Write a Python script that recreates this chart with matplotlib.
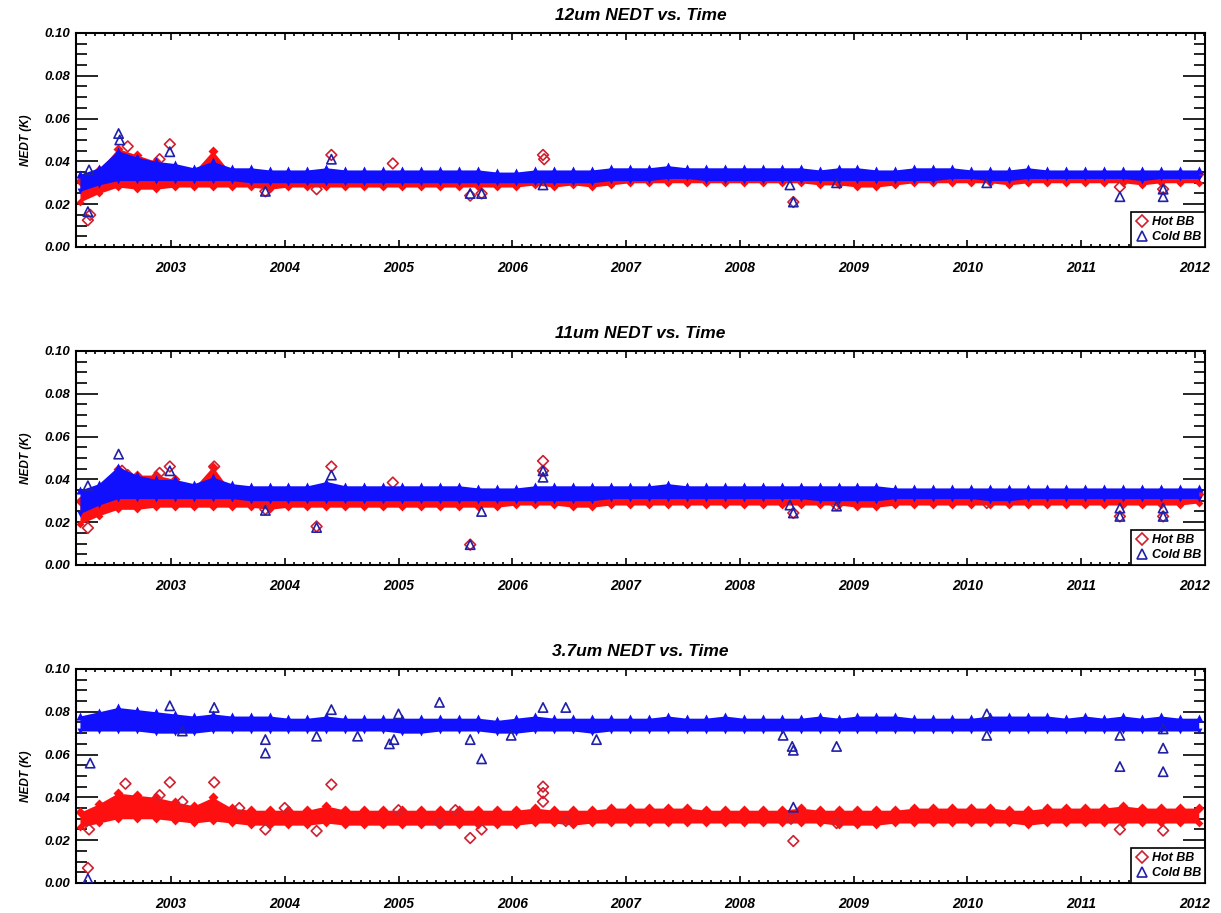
import numpy as np
import matplotlib
matplotlib.use('Agg')
import matplotlib.pyplot as plt
from matplotlib.ticker import MultipleLocator, FormatStrFormatter
from matplotlib.lines import Line2D

plt.rcParams['font.family'] = ['Liberation Sans', 'DejaVu Sans']
plt.rcParams['font.weight'] = 'bold'
plt.rcParams['font.style'] = 'italic'

# Band sampling times (every two months, decimal years)
t_band = np.round(2002.2 + np.arange(60) / 6, 3)

# ---- 12um: upper / lower edge of the dense daily bands ----
cold12_hi = [0.034, 0.037, 0.045, 0.042, 0.040, 0.039, 0.037, 0.040, 0.037, 0.037,
             0.036, 0.036, 0.036, 0.037, 0.036, 0.036, 0.036, 0.036, 0.036, 0.036,
             0.036, 0.036, 0.035, 0.035, 0.036, 0.036, 0.036, 0.036, 0.037, 0.037,
             0.037, 0.038, 0.037, 0.037, 0.037, 0.037, 0.037, 0.037, 0.037, 0.036,
             0.037, 0.037, 0.036, 0.036, 0.037, 0.037, 0.037, 0.036, 0.036, 0.036,
             0.037, 0.036, 0.036, 0.036, 0.036, 0.036, 0.036, 0.036, 0.036, 0.036]
cold12_lo = [0.026, 0.029, 0.031, 0.031, 0.031, 0.031, 0.031, 0.031, 0.031, 0.030,
             0.030, 0.030, 0.030, 0.030, 0.030, 0.030, 0.030, 0.030, 0.030, 0.030,
             0.030, 0.030, 0.030, 0.030, 0.030, 0.030, 0.030, 0.030, 0.031, 0.031,
             0.031, 0.032, 0.032, 0.031, 0.031, 0.031, 0.031, 0.031, 0.031, 0.031,
             0.031, 0.031, 0.031, 0.031, 0.031, 0.031, 0.032, 0.032, 0.031, 0.031,
             0.032, 0.032, 0.032, 0.032, 0.032, 0.032, 0.031, 0.032, 0.032, 0.032]
hot12_hi = [0.031, 0.036, 0.046, 0.043, 0.040, 0.037, 0.035, 0.045, 0.034, 0.033,
            0.033, 0.033, 0.033, 0.034, 0.033, 0.033, 0.033, 0.033, 0.033, 0.033,
            0.033, 0.033, 0.033, 0.033, 0.033, 0.033, 0.033, 0.033, 0.034, 0.034,
            0.034, 0.034, 0.034, 0.034, 0.034, 0.034, 0.034, 0.034, 0.034, 0.034,
            0.033, 0.033, 0.033, 0.033, 0.034, 0.034, 0.034, 0.034, 0.034, 0.034,
            0.034, 0.034, 0.034, 0.034, 0.034, 0.034, 0.034, 0.034, 0.034, 0.034]
hot12_lo = [0.021, 0.025, 0.028, 0.027, 0.027, 0.028, 0.028, 0.028, 0.028, 0.028,
            0.027, 0.028, 0.028, 0.028, 0.028, 0.028, 0.028, 0.028, 0.028, 0.028,
            0.028, 0.028, 0.028, 0.028, 0.029, 0.028, 0.029, 0.028, 0.029, 0.030,
            0.030, 0.030, 0.030, 0.030, 0.030, 0.030, 0.030, 0.030, 0.030, 0.029,
            0.029, 0.028, 0.028, 0.029, 0.030, 0.030, 0.030, 0.030, 0.030, 0.029,
            0.030, 0.030, 0.030, 0.030, 0.030, 0.030, 0.029, 0.030, 0.030, 0.030]
hot12_out_t = [2002.27, 2002.29, 2002.62, 2002.90, 2002.99, 2003.83, 2004.28, 2004.41,
               2004.95, 2005.63, 2005.73, 2006.27, 2006.28, 2008.47, 2011.34, 2011.72]
hot12_out_v = [0.0125, 0.015, 0.047, 0.041, 0.048, 0.026, 0.027, 0.043,
               0.039, 0.024, 0.025, 0.043, 0.041, 0.021, 0.028, 0.027]
cold12_out_t = [2002.27, 2002.28, 2002.54, 2002.55, 2002.99, 2003.83, 2004.41, 2005.63,
                2005.73, 2006.27, 2008.44, 2008.47, 2008.85, 2010.17, 2011.34, 2011.72, 2011.72]
cold12_out_v = [0.0165, 0.036, 0.053, 0.050, 0.0445, 0.026, 0.041, 0.025,
                0.025, 0.029, 0.029, 0.021, 0.030, 0.030, 0.0235, 0.0235, 0.027]

# ---- 11um ----
cold11_hi = [0.035, 0.038, 0.046, 0.042, 0.040, 0.040, 0.038, 0.041, 0.038, 0.037,
             0.037, 0.037, 0.037, 0.039, 0.037, 0.037, 0.037, 0.037, 0.037, 0.037,
             0.037, 0.036, 0.036, 0.036, 0.037, 0.037, 0.037, 0.037, 0.037, 0.037,
             0.037, 0.038, 0.037, 0.037, 0.037, 0.037, 0.037, 0.037, 0.037, 0.037,
             0.037, 0.037, 0.037, 0.036, 0.036, 0.036, 0.036, 0.036, 0.036, 0.036,
             0.036, 0.036, 0.036, 0.036, 0.036, 0.036, 0.036, 0.036, 0.036, 0.036]
cold11_lo = [0.024, 0.028, 0.031, 0.031, 0.031, 0.031, 0.031, 0.031, 0.031, 0.030,
             0.030, 0.030, 0.030, 0.030, 0.030, 0.030, 0.030, 0.030, 0.030, 0.030,
             0.030, 0.030, 0.030, 0.030, 0.030, 0.030, 0.030, 0.030, 0.031, 0.031,
             0.031, 0.031, 0.031, 0.031, 0.031, 0.031, 0.031, 0.031, 0.031, 0.030,
             0.030, 0.030, 0.030, 0.031, 0.031, 0.031, 0.031, 0.031, 0.030, 0.030,
             0.031, 0.031, 0.031, 0.031, 0.031, 0.031, 0.031, 0.031, 0.031, 0.031]
hot11_hi = [0.030, 0.035, 0.045, 0.042, 0.042, 0.040, 0.036, 0.046, 0.034, 0.033,
            0.033, 0.033, 0.033, 0.033, 0.033, 0.033, 0.033, 0.033, 0.033, 0.033,
            0.033, 0.033, 0.033, 0.033, 0.033, 0.033, 0.033, 0.033, 0.033, 0.033,
            0.033, 0.033, 0.033, 0.033, 0.033, 0.033, 0.033, 0.033, 0.033, 0.033,
            0.033, 0.033, 0.033, 0.033, 0.033, 0.033, 0.033, 0.033, 0.033, 0.033,
            0.033, 0.033, 0.033, 0.033, 0.033, 0.033, 0.033, 0.033, 0.033, 0.033]
hot11_lo = [0.019, 0.023, 0.026, 0.026, 0.027, 0.027, 0.027, 0.027, 0.027, 0.027,
            0.026, 0.027, 0.027, 0.027, 0.027, 0.027, 0.027, 0.027, 0.027, 0.027,
            0.027, 0.027, 0.027, 0.028, 0.028, 0.028, 0.027, 0.027, 0.028, 0.028,
            0.028, 0.028, 0.028, 0.028, 0.028, 0.028, 0.028, 0.028, 0.028, 0.028,
            0.028, 0.027, 0.027, 0.028, 0.028, 0.028, 0.028, 0.028, 0.028, 0.028,
            0.028, 0.028, 0.028, 0.028, 0.028, 0.028, 0.028, 0.028, 0.028, 0.029]
hot11_out_t = [2002.27, 2002.57, 2002.62, 2002.90, 2002.99, 2003.38, 2003.83, 2004.28,
               2004.41, 2004.95, 2005.63, 2006.27, 2006.27, 2008.47, 2008.85, 2010.17,
               2011.34, 2011.72]
hot11_out_v = [0.0173, 0.044, 0.042, 0.043, 0.046, 0.046, 0.026, 0.018,
               0.046, 0.0385, 0.0095, 0.0486, 0.044, 0.0243, 0.028, 0.029,
               0.0227, 0.0227]
cold11_out_t = [2002.27, 2002.54, 2002.99, 2003.83, 2004.28, 2004.41, 2005.63, 2005.73,
                2006.27, 2006.27, 2008.44, 2008.47, 2008.85, 2011.34, 2011.34, 2011.72, 2011.72]
cold11_out_v = [0.037, 0.0518, 0.044, 0.0255, 0.0175, 0.042, 0.0095, 0.025,
                0.044, 0.041, 0.028, 0.0243, 0.0275, 0.0227, 0.0266, 0.0227, 0.0266]

# ---- 3.7um ----
cold37_hi = [0.078, 0.080, 0.082, 0.081, 0.080, 0.079, 0.078, 0.079, 0.078, 0.078,
             0.078, 0.077, 0.077, 0.078, 0.077, 0.077, 0.077, 0.077, 0.077, 0.077,
             0.077, 0.077, 0.076, 0.077, 0.078, 0.077, 0.077, 0.077, 0.077, 0.077,
             0.077, 0.078, 0.077, 0.077, 0.078, 0.077, 0.077, 0.077, 0.077, 0.078,
             0.077, 0.078, 0.078, 0.078, 0.077, 0.077, 0.077, 0.077, 0.078, 0.078,
             0.078, 0.078, 0.077, 0.078, 0.077, 0.078, 0.077, 0.078, 0.077, 0.077]
cold37_lo = [0.071, 0.071, 0.071, 0.071, 0.070, 0.070, 0.070, 0.071, 0.071, 0.071,
             0.071, 0.071, 0.071, 0.071, 0.071, 0.071, 0.071, 0.070, 0.070, 0.071,
             0.071, 0.071, 0.070, 0.070, 0.071, 0.071, 0.071, 0.070, 0.071, 0.071,
             0.071, 0.071, 0.071, 0.071, 0.071, 0.071, 0.071, 0.071, 0.071, 0.071,
             0.071, 0.071, 0.071, 0.071, 0.071, 0.071, 0.071, 0.071, 0.071, 0.071,
             0.071, 0.071, 0.071, 0.071, 0.071, 0.071, 0.071, 0.071, 0.071, 0.071]
hot37_hi = [0.033, 0.037, 0.042, 0.041, 0.040, 0.038, 0.036, 0.040, 0.035, 0.034,
            0.034, 0.034, 0.034, 0.036, 0.034, 0.034, 0.034, 0.034, 0.034, 0.034,
            0.034, 0.034, 0.034, 0.034, 0.035, 0.034, 0.034, 0.034, 0.035, 0.035,
            0.035, 0.035, 0.035, 0.034, 0.034, 0.034, 0.034, 0.034, 0.035, 0.034,
            0.034, 0.034, 0.034, 0.034, 0.035, 0.035, 0.035, 0.035, 0.035, 0.034,
            0.034, 0.035, 0.035, 0.035, 0.035, 0.036, 0.035, 0.035, 0.035, 0.035]
hot37_lo = [0.026, 0.028, 0.030, 0.030, 0.030, 0.029, 0.028, 0.029, 0.028, 0.027,
            0.027, 0.027, 0.027, 0.028, 0.027, 0.027, 0.027, 0.027, 0.027, 0.027,
            0.027, 0.027, 0.027, 0.027, 0.028, 0.028, 0.027, 0.028, 0.028, 0.028,
            0.028, 0.028, 0.028, 0.028, 0.028, 0.028, 0.028, 0.028, 0.028, 0.028,
            0.027, 0.027, 0.027, 0.028, 0.028, 0.028, 0.028, 0.028, 0.028, 0.028,
            0.027, 0.028, 0.028, 0.028, 0.028, 0.028, 0.028, 0.028, 0.028, 0.028]
hot37_out_t = [2002.27, 2002.28, 2002.60, 2002.90, 2002.99, 2003.10, 2003.38, 2003.60,
               2003.83, 2004.00, 2004.28, 2004.41, 2005.00, 2005.36, 2005.50, 2005.63,
               2005.73, 2006.27, 2006.27, 2006.27, 2006.47, 2008.47, 2008.45, 2008.85,
               2011.34, 2011.72]
hot37_out_v = [0.007, 0.025, 0.0464, 0.041, 0.047, 0.038, 0.047, 0.035,
               0.025, 0.035, 0.0243, 0.046, 0.034, 0.028, 0.034, 0.021,
               0.025, 0.045, 0.042, 0.038, 0.029, 0.0196, 0.030, 0.028,
               0.025, 0.0245]
cold37_out_t = [2002.27, 2002.29, 2002.99, 2003.10, 2003.38, 2003.83, 2003.83, 2004.28,
                2004.41, 2004.64, 2004.92, 2004.96, 2005.00, 2005.36, 2005.63, 2005.73,
                2005.99, 2006.27, 2006.47, 2006.74, 2008.38, 2008.46, 2008.47, 2008.47,
                2008.85, 2010.17, 2010.17, 2011.34, 2011.34, 2011.72, 2011.72, 2011.72]
cold37_out_v = [0.002, 0.056, 0.0828, 0.071, 0.082, 0.067, 0.0607, 0.0686,
                0.081, 0.0686, 0.065, 0.067, 0.079, 0.0844, 0.067, 0.058,
                0.069, 0.082, 0.082, 0.067, 0.069, 0.0638, 0.062, 0.0354,
                0.0638, 0.069, 0.079, 0.0544, 0.069, 0.063, 0.052, 0.072]

titles = ['12um NEDT vs. Time', '11um NEDT vs. Time', '3.7um NEDT vs. Time']
year_ticks = list(range(2003, 2013))

HOT = '#ff1010'
COLD = '#1010ff'
HOT_EDGE = '#d02030'
COLD_EDGE = '#2020a8'


def draw_panel(ax, title, hot_lo, hot_hi, cold_lo, cold_hi,
               hot_t, hot_v, cold_t, cold_v):
    # hot blackbody band (drawn first, cold goes on top)
    ax.fill_between(t_band, hot_lo, hot_hi, color=HOT, lw=0, zorder=2)
    ax.scatter(t_band, hot_hi, marker='D', s=26, color=HOT, lw=0, zorder=2)
    ax.scatter(t_band, hot_lo, marker='D', s=16, color=HOT, lw=0, zorder=2)
    ax.scatter(hot_t, hot_v, marker='D', s=30, facecolors='none',
               edgecolors=HOT_EDGE, linewidths=1.2, zorder=3)

    # cold blackbody band
    ax.fill_between(t_band, cold_lo, cold_hi, color=COLD, lw=0, zorder=4)
    ax.scatter(t_band, cold_hi, marker='^', s=34, color=COLD, lw=0, zorder=4)
    ax.scatter(t_band, cold_lo, marker='v', s=18, color=COLD, lw=0, zorder=4)
    ax.scatter(cold_t, cold_v, marker='^', s=45, facecolors='none',
               edgecolors=COLD_EDGE, linewidths=1.2, zorder=5)

    ax.set_xlim(2002.165, 2012.088)
    ax.set_ylim(0, 0.1)
    ax.set_xticks(year_ticks)
    ax.xaxis.set_minor_locator(MultipleLocator(1 / 12))
    ax.yaxis.set_major_locator(MultipleLocator(0.02))
    ax.yaxis.set_minor_locator(MultipleLocator(0.005))
    ax.yaxis.set_major_formatter(FormatStrFormatter('%.2f'))
    ax.tick_params(which='both', direction='in', top=True, right=True, width=1.2)
    ax.tick_params(axis='x', which='major', length=5, labelsize=10, pad=10)
    ax.tick_params(axis='x', which='minor', length=2.5)
    ax.tick_params(axis='y', which='major', length=16, labelsize=9.5, pad=4)
    ax.tick_params(axis='y', which='minor', length=8)
    for s in ax.spines.values():
        s.set_linewidth(1.5)
    ax.set_title(title, fontsize=12.5, fontweight='bold', style='italic', pad=9)
    ax.set_ylabel('NEDT (K)', fontsize=8.5, fontweight='bold', style='italic', labelpad=9)

    handles = [Line2D([], [], marker='D', ls='none', mfc='none', mec=HOT_EDGE,
                      ms=6, mew=1.2, label='Hot BB'),
               Line2D([], [], marker='^', ls='none', mfc='none', mec=COLD_EDGE,
                      ms=7, mew=1.2, label='Cold BB')]
    leg = ax.legend(handles=handles, loc='lower right', fontsize=9,
                    fancybox=False, framealpha=1, edgecolor='black',
                    borderaxespad=0, borderpad=0.3, labelspacing=0.25,
                    handletextpad=0.2, handlelength=1.2)
    leg.get_frame().set_linewidth(1.2)
    leg.set_zorder(10)


fig = plt.figure(figsize=(12.21, 9.13), dpi=100)
left, width = 0.0622, 0.9247
bottoms = [0.7295, 0.3812, 0.0329]
height = 0.2344

panels = [
    (hot12_lo, hot12_hi, cold12_lo, cold12_hi, hot12_out_t, hot12_out_v, cold12_out_t, cold12_out_v),
    (hot11_lo, hot11_hi, cold11_lo, cold11_hi, hot11_out_t, hot11_out_v, cold11_out_t, cold11_out_v),
    (hot37_lo, hot37_hi, cold37_lo, cold37_hi, hot37_out_t, hot37_out_v, cold37_out_t, cold37_out_v),
]

for i, data in enumerate(panels):
    ax = fig.add_axes([left, bottoms[i], width, height])
    draw_panel(ax, titles[i], *data)

fig.savefig('out.png', dpi=100)
